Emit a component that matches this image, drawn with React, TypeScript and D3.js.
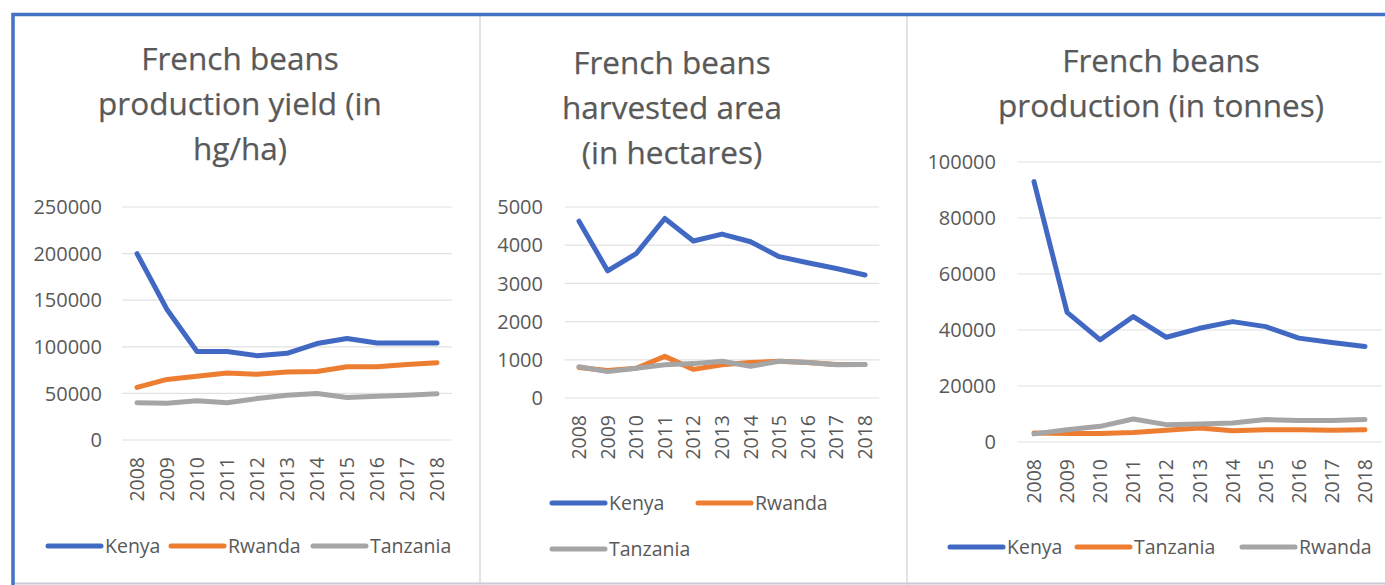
import React from 'react';
import * as d3 from 'd3';

const years = ['2008', '2009', '2010', '2011', '2012', '2013', '2014', '2015', '2016', '2017', '2018'];

// Panel 1: production yield (hg/ha)
const yieldKenya = [200000, 140000, 95000, 95000, 90500, 93000, 103500, 109000, 104000, 104000, 104000];
const yieldRwanda = [56500, 65000, 68500, 72000, 70500, 73000, 73500, 78500, 78500, 81000, 83000];
const yieldTanzania = [40000, 39500, 42000, 40000, 44500, 48000, 50000, 45500, 47000, 48000, 49500];
const yieldTicks = [0, 50000, 100000, 150000, 200000, 250000];

// Panel 2: harvested area (ha)
const areaKenya = [4630, 3330, 3780, 4700, 4110, 4290, 4090, 3700, 3540, 3390, 3220];
const areaRwanda = [800, 720, 780, 1090, 750, 870, 930, 960, 930, 880, 880];
const areaTanzania = [820, 690, 780, 870, 900, 960, 830, 960, 930, 870, 880];
const areaTicks = [0, 1000, 2000, 3000, 4000, 5000];

// Panel 3: production (tonnes)
const prodKenya = [93000, 46300, 36500, 44800, 37400, 40600, 43000, 41200, 37100, 35500, 34100];
const prodTanzania = [3200, 3000, 3000, 3400, 4200, 5000, 4000, 4400, 4400, 4200, 4400];
const prodRwanda = [2900, 4400, 5600, 8200, 6200, 6400, 6800, 8000, 7700, 7700, 8000];
const prodTicks = [0, 20000, 40000, 60000, 80000, 100000];

const BLUE = '#4169C4';
const ORANGE = '#ED7D31';
const GRAY = '#A5A5A5';
const TEXT = '#595959';
const FONT = '"Open Sans", sans-serif';

type Series = { name: string; color: string; values: number[] };
type Panel = {
  title: string[];
  cx: number;
  titleY: number;
  xFirst: number;
  xLast: number;
  yBottom: number;
  yTop: number;
  max: number;
  ticks: number[];
  labelRight: number;
  series: Series[];
  legend: { x: number; y: number }[];
};

const panels: Panel[] = [
  {
    title: ['French beans', 'production yield (in', 'hg/ha)'],
    cx: 240,
    titleY: 70,
    xFirst: 137,
    xLast: 437,
    yBottom: 440,
    yTop: 207,
    max: 250000,
    ticks: yieldTicks,
    labelRight: 102,
    series: [
      { name: 'Kenya', color: BLUE, values: yieldKenya },
      { name: 'Rwanda', color: ORANGE, values: yieldRwanda },
      { name: 'Tanzania', color: GRAY, values: yieldTanzania },
    ],
    legend: [
      { x: 48, y: 546 },
      { x: 171, y: 546 },
      { x: 313, y: 546 },
    ],
  },
  {
    title: ['French beans', 'harvested area', '(in hectares)'],
    cx: 672,
    titleY: 74,
    xFirst: 579,
    xLast: 865,
    yBottom: 398,
    yTop: 207,
    max: 5000,
    ticks: areaTicks,
    labelRight: 543,
    series: [
      { name: 'Kenya', color: BLUE, values: areaKenya },
      { name: 'Rwanda', color: ORANGE, values: areaRwanda },
      { name: 'Tanzania', color: GRAY, values: areaTanzania },
    ],
    legend: [
      { x: 552, y: 503 },
      { x: 698, y: 503 },
      { x: 552, y: 549 },
    ],
  },
  {
    title: ['French beans', 'production (in tonnes)'],
    cx: 1161,
    titleY: 72,
    xFirst: 1034,
    xLast: 1365,
    yBottom: 442,
    yTop: 162,
    max: 100000,
    ticks: prodTicks,
    labelRight: 996,
    series: [
      { name: 'Kenya', color: BLUE, values: prodKenya },
      { name: 'Tanzania', color: ORANGE, values: prodTanzania },
      { name: 'Rwanda', color: GRAY, values: prodRwanda },
    ],
    legend: [
      { x: 950, y: 547 },
      { x: 1077, y: 547 },
      { x: 1242, y: 547 },
    ],
  },
];

function PanelChart({ p }: { p: Panel }) {
  const x = d3.scalePoint<string>().domain(years).range([p.xFirst, p.xLast]);
  const step = x.step();
  const y = d3.scaleLinear().domain([0, p.max]).range([p.yBottom, p.yTop]);
  const line = d3
    .line<number>()
    .x((_, i) => x(years[i]) as number)
    .y((d) => y(d));
  const gx0 = p.xFirst - step / 2;
  const gx1 = p.xLast + step / 2;
  return (
    <g>
      {p.title.map((t, i) => (
        <text
          key={i}
          x={p.cx}
          y={p.titleY + i * 45}
          textAnchor="middle"
          fontFamily={FONT}
          fontSize={31.5}
          fill={TEXT}
          stroke={TEXT}
          strokeWidth={0.25}
        >
          {t}
        </text>
      ))}
      {p.ticks.map((t) => (
        <g key={t}>
          <line x1={gx0} x2={gx1} y1={y(t)} y2={y(t)} stroke="#E2E2E2" strokeWidth={1.2} />
          <text
            x={p.labelRight}
            y={y(t)}
            dy="0.36em"
            textAnchor="end"
            fontFamily={FONT}
            fontSize={20}
            fill={TEXT}
          >
            {t}
          </text>
        </g>
      ))}
      {years.map((yr) => (
        <text
          key={yr}
          transform={`translate(${x(yr)},${p.yBottom + 17}) rotate(-90)`}
          dy="0.36em"
          textAnchor="end"
          fontFamily={FONT}
          fontSize={19.5}
          fill={TEXT}
        >
          {yr}
        </text>
      ))}
      {p.series.map((s) => (
        <path
          key={s.name}
          d={line(s.values) || ''}
          fill="none"
          stroke={s.color}
          strokeWidth={5}
          strokeLinejoin="round"
          strokeLinecap="round"
        />
      ))}
      {p.series.map((s, i) => (
        <g key={'lg' + s.name}>
          <line
            x1={p.legend[i].x}
            x2={p.legend[i].x + 53}
            y1={p.legend[i].y}
            y2={p.legend[i].y}
            stroke={s.color}
            strokeWidth={5}
            strokeLinecap="round"
          />
          <text
            x={p.legend[i].x + 57}
            y={p.legend[i].y}
            dy="0.36em"
            fontFamily={FONT}
            fontSize={19.5}
            fill={TEXT}
          >
            {s.name}
          </text>
        </g>
      ))}
    </g>
  );
}

export default function App() {
  return (
    <svg
      width={1385}
      height={585}
      style={{ position: 'absolute', left: 0, top: 0, display: 'block', background: '#fff' }}
    >
      <rect x={0} y={0} width={1385} height={585} fill="#fff" />
      <line x1={480} x2={480} y1={16} y2={585} stroke="#DADADA" strokeWidth={1.5} />
      <line x1={907} x2={907} y1={16} y2={585} stroke="#DADADA" strokeWidth={1.5} />
      <line x1={13} x2={1385} y1={583.5} y2={583.5} stroke="#C8CCD8" strokeWidth={2} />
      {panels.map((p, i) => (
        <PanelChart key={i} p={p} />
      ))}
      <path d="M13,585 L13,14.5 L1385,14.5" fill="none" stroke="#4472C4" strokeWidth={3.5} />
    </svg>
  );
}
